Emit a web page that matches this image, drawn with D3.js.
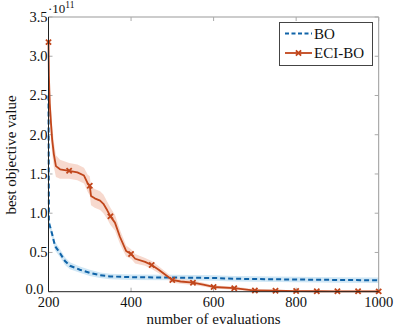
<!DOCTYPE html>
<html>
<head>
<meta charset="utf-8">
<script src="https://cdn.jsdelivr.net/npm/d3@7"></script>
<style>
  body { margin: 0; background: #fff; }
  svg { display: block; }
</style>
</head>
<body>
<svg id="chart" width="399" height="328"></svg>
<script>
// values in units of 1e11
const boX = [200, 201, 208, 216, 228, 240, 252, 276, 300, 325, 349, 400, 500, 600, 650, 800, 900, 1000];
const boY = [2.5, 0.88, 0.75, 0.58, 0.49, 0.39, 0.33, 0.28, 0.24, 0.21, 0.195, 0.185, 0.18, 0.175, 0.165, 0.155, 0.15, 0.145];
const boSpread = [0.1, 0.06, 0.055, 0.055, 0.05, 0.05, 0.045, 0.04, 0.04, 0.035, 0.035, 0.035, 0.035, 0.035, 0.035, 0.035, 0.035, 0.035];

const eciX = [200, 201, 203, 206, 209, 213, 218, 228, 250, 270, 286, 295, 300, 303, 312, 325, 333, 342, 350, 361, 373, 388, 400, 410, 434, 450, 467, 500, 520, 550, 575, 600, 650, 700, 750, 800, 850, 900, 950, 1000];
const eciY = [3.18, 2.75, 2.4, 2.15, 1.93, 1.75, 1.6, 1.56, 1.54, 1.52, 1.48, 1.38, 1.35, 1.22, 1.19, 1.16, 1.12, 1.04, 0.96, 0.88, 0.7, 0.52, 0.48, 0.42, 0.38, 0.34, 0.28, 0.15, 0.13, 0.115, 0.09, 0.06, 0.045, 0.015, 0.012, 0.008, 0.006, 0.005, 0.005, 0.004];
const eciSpread = [0.25, 0.25, 0.22, 0.2, 0.18, 0.16, 0.14, 0.12, 0.1, 0.1, 0.1, 0.11, 0.12, 0.12, 0.12, 0.12, 0.12, 0.11, 0.11, 0.1, 0.09, 0.07, 0.06, 0.06, 0.05, 0.05, 0.045, 0.035, 0.03, 0.03, 0.025, 0.02, 0.02, 0.015, 0.012, 0.01, 0.01, 0.01, 0.01, 0.01];

const xTicks = [200, 400, 600, 800, 1000];
const yTicks = [0, 0.5, 1, 1.5, 2, 2.5, 3, 3.5];
const seriesNames = ["BO", "ECI-BO"];

const blue = "#0f63a8";
const blueFill = "#cbe4f4";
const red = "#c1461b";
const redFill = "#f6d2c6";
const font = "'Liberation Serif', 'Times New Roman', 'DejaVu Serif', serif";

const svg = d3.select("#chart").attr("font-family", font);
const pLeft = 48.5, pRight = 378.7, pTop = 17, pBottom = 291.7;

const x = d3.scaleLinear().domain([200, 1000]).range([pLeft, pRight]);
const y = d3.scaleLinear().domain([0, 3.5]).range([pBottom, pTop]);

const bo = boX.map((v, i) => ({ x: v, y: boY[i], s: boSpread[i] }));
const eci = eciX.map((v, i) => ({ x: v, y: eciY[i], s: eciSpread[i] }));

const area = d3.area()
  .x((d) => x(d.x))
  .y0((d) => y(Math.max(0, d.y - d.s)))
  .y1((d) => y(d.y + d.s));
const line = d3.line().x((d) => x(d.x)).y((d) => y(d.y));

// bands
svg.append("path").datum(bo).attr("d", area).attr("fill", blueFill).attr("opacity", 0.9);
svg.append("path").datum(eci).attr("d", area).attr("fill", redFill).attr("opacity", 0.85);

// frame: top/right gray, left/bottom black
const frame = svg.append("g");
frame.append("line").attr("x1", pLeft).attr("x2", pRight).attr("y1", pTop).attr("y2", pTop).attr("stroke", "#999");
frame.append("line").attr("x1", pRight).attr("x2", pRight).attr("y1", pTop).attr("y2", pBottom).attr("stroke", "#999");

// inward ticks
xTicks.forEach((t) => {
  frame.append("line").attr("x1", x(t)).attr("x2", x(t)).attr("y1", pTop).attr("y2", pTop + 4).attr("stroke", "#aaa");
  frame.append("line").attr("x1", x(t)).attr("x2", x(t)).attr("y1", pBottom).attr("y2", pBottom - 4).attr("stroke", "#aaa");
});
yTicks.forEach((t) => {
  frame.append("line").attr("x1", pLeft).attr("x2", pLeft + 4).attr("y1", y(t)).attr("y2", y(t)).attr("stroke", "#aaa");
  frame.append("line").attr("x1", pRight).attr("x2", pRight - 4).attr("y1", y(t)).attr("y2", y(t)).attr("stroke", "#aaa");
});

// lines
svg.append("path").datum(bo).attr("d", line).attr("fill", "none")
  .attr("stroke", blue).attr("stroke-width", 2).attr("stroke-dasharray", "5,3");
svg.append("path").datum(eci).attr("d", line).attr("fill", "none")
  .attr("stroke", red).attr("stroke-width", 1.8).attr("stroke-linejoin", "round");

// x markers every 50 evaluations
const cross = "M-2.6,-2.6L2.6,2.6M-2.6,2.6L2.6,-2.6";
svg.append("g").selectAll("path")
  .data(eci.filter((d) => d.x % 50 === 0))
  .join("path")
  .attr("transform", (d) => `translate(${x(d.x)},${y(d.y)})`)
  .attr("d", cross)
  .attr("stroke", red).attr("stroke-width", 1.8).attr("fill", "none");

svg.append("line").attr("x1", pLeft).attr("x2", pLeft).attr("y1", pTop).attr("y2", pBottom).attr("stroke", "#222");
svg.append("line").attr("x1", pLeft).attr("x2", pRight).attr("y1", pBottom).attr("y2", pBottom).attr("stroke", "#222");

// tick labels
svg.append("g").selectAll("text").data(xTicks).join("text")
  .attr("x", (d) => x(d)).attr("y", 306.5)
  .attr("text-anchor", "middle").attr("font-size", 14.5).attr("fill", "#111")
  .text((d) => d);
svg.append("g").selectAll("text").data(yTicks).join("text")
  .attr("x", (d) => (d === 0 ? pLeft - 5 : pLeft - 1)).attr("y", (d) => y(d) + (d === 0 ? 2.5 : 5))
  .attr("text-anchor", "end").attr("font-size", 14.5).attr("fill", "#111")
  .text((d) => d.toFixed(1));

// exponent
const ex = svg.append("text").attr("x", 48).attr("y", 13).attr("font-size", 13).attr("fill", "#111");
ex.append("tspan").text("·10");
ex.append("tspan").attr("dy", -5).attr("font-size", 9.5).text("11");

// axis labels
svg.append("text").attr("x", 213.5).attr("y", 324)
  .attr("text-anchor", "middle").attr("font-size", 15).attr("fill", "#111")
  .text("number of evaluations");
svg.append("text").attr("transform", `translate(16,155) rotate(-90)`)
  .attr("text-anchor", "middle").attr("font-size", 15).attr("fill", "#111")
  .text("best objective value");

// legend
const lg = svg.append("g");
lg.append("rect").attr("x", 279.5).attr("y", 22.5).attr("width", 93).attr("height", 43)
  .attr("fill", "#fff").attr("stroke", "#444");
lg.append("line").attr("x1", 285).attr("x2", 312).attr("y1", 33.5).attr("y2", 33.5)
  .attr("stroke", blue).attr("stroke-width", 2).attr("stroke-dasharray", "4,2.5");
lg.append("line").attr("x1", 285).attr("x2", 312).attr("y1", 53).attr("y2", 53)
  .attr("stroke", red).attr("stroke-width", 1.8);
lg.append("path").attr("transform", "translate(298.5,53)").attr("d", cross)
  .attr("stroke", red).attr("stroke-width", 1.8);
lg.selectAll("text.lbl").data(seriesNames).join("text")
  .attr("x", 314).attr("y", (d, i) => 38.5 + i * 19.5)
  .attr("font-size", 15).attr("fill", "#111").text((d) => d);
</script>
</body>
</html>
